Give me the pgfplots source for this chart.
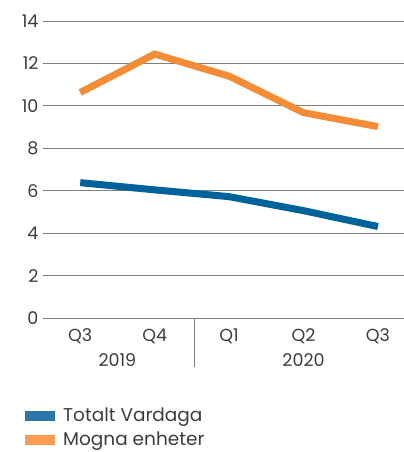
\documentclass[border=0pt]{standalone}
\usepackage{pgfplots}
\pgfplotsset{compat=1.18}
\usepackage{fontspec}
\setmainfont{Poppins}
\definecolor{lineorange}{HTML}{F28C36}
\definecolor{lineblue}{HTML}{00629B}
\definecolor{legorange}{HTML}{F89D53}
\definecolor{legblue}{HTML}{2C74A9}
\definecolor{txt}{HTML}{3C3C3C}
\definecolor{gridc}{HTML}{7F7F7F}
\begin{document}
\begin{tikzpicture}
\useasboundingbox (0,0) rectangle (404bp,452bp);
\begin{axis}[
  at={(43bp,134bp)}, anchor=south west,
  scale only axis, width=361bp, height=297bp,
  xmin=-0.5, xmax=4.35, ymin=0, ymax=14,
  ytick={0,2,...,14},
  xtick={0,1,2,3,4}, xticklabels={Q3,Q4,Q1,Q2,Q3},
  major tick length=0pt,
  axis line style={draw=none},
  ymajorgrids, grid style={gridc, line width=0.9bp},
  tick label style={font=\fontsize{17.5bp}{20bp}\selectfont, text=txt},
  /pgf/number format/assume math mode=true,
  yticklabel style={xshift=-1bp},
  xticklabel style={yshift=-7bp},
  clip=false,
  legend style={at={(rel axis cs:-0.051,-0.299)}, anchor=north west, draw=none, fill=none,
    font=\fontsize{18.5bp}{21bp}\selectfont, text=txt, row sep=7bp, inner sep=0pt,
    nodes={inner xsep=9bp, inner ysep=1bp}, legend cell align=left},
  legend image code/.code={\fill (0bp,-4.5bp) rectangle (29bp,4.5bp);},
]
\addplot[lineblue, line width=7bp, forget plot] coordinates {(0,6.38) (1,6.04) (2,5.72) (3,5.06) (4,4.31)};
\addplot[lineorange, line width=7bp, forget plot] coordinates {(0,10.63) (1,12.44) (2,11.4) (3,9.68) (4,9.02)};
\addlegendimage{legblue, fill=legblue}
\addlegendentry{Totalt Vardaga}
\addlegendimage{legorange, fill=legorange}
\addlegendentry{Mogna enheter}
\draw[gridc, line width=0.9bp] (axis cs:1.53,0) -- (axis cs:1.53,-2.31);
\node[font=\fontsize{17.5bp}{20bp}\selectfont, text=txt] at (axis cs:0.5,-1.97) {2019};
\node[font=\fontsize{17.5bp}{20bp}\selectfont, text=txt] at (axis cs:3,-1.97) {2020};
\end{axis}
\end{tikzpicture}
\end{document}
